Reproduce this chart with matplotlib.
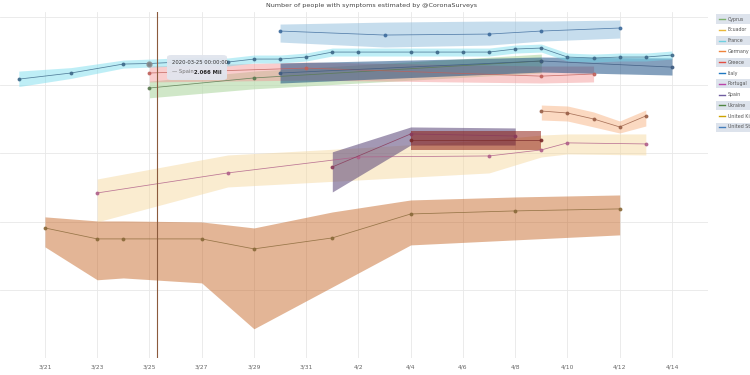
import datetime as dt
import matplotlib
matplotlib.use("Agg")
import matplotlib.pyplot as plt
from matplotlib.patches import Rectangle, FancyBboxPatch

us_dates = ["3/30", "4/3", "4/7", "4/9", "4/12"]
us_mid = [6180, 5400, 5580, 6180, 6840]
us_lo = [4260, 3600, 3850, 4400, 4880]
us_hi = [7820, 8360, 8650, 8650, 8950]

spain_dates = ["3/20", "3/22", "3/24", "3/25", "3/27", "3/28", "3/29", "3/30", "3/31", "4/1", "4/2",
               "4/4", "4/5", "4/6", "4/7", "4/8", "4/9", "4/10", "4/11", "4/12", "4/13", "4/14"]
spain_mid = [1220, 1500, 2030, 2066, 2250, 2170, 2400, 2400, 2570, 3040, 3040,
             3040, 3040, 3040, 3040, 3370, 3480, 2570, 2490, 2570, 2570, 2750]
spain_lo = [950, 1250, 1770, 1830, 1960, 1900, 2100, 2100, 2250, 2660, 2660,
            2660, 2660, 2660, 2660, 2940, 3040, 2250, 2170, 2250, 2250, 2400]
spain_hi = [1600, 1800, 2320, 2400, 2570, 2490, 2750, 2750, 2940, 3480, 3480,
            3480, 3480, 3480, 3480, 3850, 3980, 2940, 2840, 2940, 2940, 3150]

cyprus_dates = ["3/25", "3/29", "4/9"]
cyprus_mid = [904, 1270, 2250]
cyprus_lo = [650, 880, 1500]
cyprus_hi = [1140, 1600, 2840]

greece_dates = ["3/25", "3/31", "4/9", "4/11"]
greece_mid = [1500, 1770, 1350, 1450]
greece_lo = [1110, 1180, 1070, 1110]
greece_hi = [1900, 2170, 1900, 1900]

italy_dates = ["3/30", "4/9", "4/14"]
italy_mid = [1500, 2250, 1830]
italy_lo = [1070, 1550, 1400]
italy_hi = [2100, 2570, 2490]

germany_dates = ["4/9", "4/10", "4/11", "4/12", "4/13"]
germany_mid = [416, 389, 318, 243, 352]
germany_lo = [307, 297, 243, 198, 251]
germany_hi = [509, 493, 403, 297, 431]

ecuador_dates = ["3/23", "3/28", "4/2", "4/7", "4/9", "4/10", "4/13"]
ecuador_mid = [26.2, 51.5, 88.3, 91.3, 112, 142, 137]
ecuador_lo = [9.86, 32.1, 40.6, 51.5, 88.3, 97.7, 94.4]
ecuador_hi = [42.0, 94.4, 120, 157, 185, 192, 192]

portugal_dates = ["4/1", "4/4", "4/8"]
portugal_mid = [63.0, 192, 179]
portugal_lo = [27.1, 132, 132]
portugal_hi = [105, 243, 235]

uk_dates = ["4/4", "4/9"]
uk_mid = [157, 157]
uk_lo = [112, 112]
uk_hi = [212, 212]

ukraine_dates = ["3/21", "3/23", "3/24", "3/27", "3/29", "4/1", "4/4", "4/8", "4/12"]
ukraine_mid = [8.05, 5.56, 5.56, 5.56, 3.97, 5.75, 12.9, 14.3, 15.3]
ukraine_lo = [4.25, 1.40, 1.49, 1.26, 0.268, 1.10, 4.54, 5.38, 6.37]
ukraine_hi = [11.7, 10.2, 10.2, 9.86, 8.05, 13.8, 20.7, 22.9, 24.5]

legend_names = ["Cyprus", "Ecuador", "France", "Germany", "Greece", "Italy", "Portugal",
                "Spain", "Ukraine", "United Ki", "United St"]
legend_colors = ["#7EB26D", "#EAB839", "#6ED0E0", "#EF843C", "#E24D42", "#1F78C1", "#BA43A9",
                 "#705DA0", "#508642", "#CCA300", "#447EBC"]
tick_labels = ["3/21", "3/23", "3/25", "3/27", "3/29", "3/31", "4/2", "4/4", "4/6", "4/8",
               "4/10", "4/12", "4/14"]


def day(s):
    m, d = s.split("/")
    return dt.datetime(2020, int(m), int(d))


def k(vals):
    return [v * 1000 for v in vals]


fig = plt.figure(figsize=(7.5, 3.75), dpi=100)
ax = fig.add_axes([0.0, 1 - 358 / 375, 708 / 750, (358 - 12) / 375])

series = [
    # dates, mid, lo, hi, band colour, band alpha, line colour
    (ukraine_dates, ukraine_mid, ukraine_lo, ukraine_hi, "#C15C17", 0.45, "#8a6a3a"),
    (ecuador_dates, ecuador_mid, ecuador_lo, ecuador_hi, "#F4D598", 0.45, "#b0608a"),
    (portugal_dates, portugal_mid, portugal_lo, portugal_hi, "#584477", 0.55, "#8a3a5a"),
    (uk_dates, uk_mid, uk_lo, uk_hi, "#890F02", 0.5, "#7a2a2a"),
    (germany_dates, germany_mid, germany_lo, germany_hi, "#F9BA8F", 0.55, "#9a6048"),
    (cyprus_dates, cyprus_mid, cyprus_lo, cyprus_hi, "#B7DBAB", 0.65, "#5a7a50"),
    (greece_dates, greece_mid, greece_lo, greece_hi, "#F29191", 0.45, "#c0605a"),
    (italy_dates, italy_mid, italy_lo, italy_hi, "#0A437C", 0.5, "#3d5a80"),
    (spain_dates, spain_mid, spain_lo, spain_hi, "#70DBED", 0.45, "#3f6a8a"),
    (us_dates, us_mid, us_lo, us_hi, "#82B5D8", 0.45, "#3f6d9e"),
]

for dates, mid, lo, hi, bc, ba, lc in series:
    x = [day(s) for s in dates]
    ax.fill_between(x, k(lo), k(hi), color=bc, alpha=ba, lw=0)
    ax.plot(x, k(mid), color=lc, lw=0.55, marker="o", ms=1.8, alpha=0.85)

ax.set_yscale("log")
ax.set_ylim(100, 10 ** 7.07)
left = day("3/21") - dt.timedelta(days=1.72)
right = day("3/21") + dt.timedelta(days=25.38)
ax.set_xlim(left, right)

ax.set_xticks([day(s) for s in tick_labels])
ax.set_xticklabels(tick_labels, fontsize=4.3, color="#666666")
ax.tick_params(axis="x", length=0, pad=5)
ax.tick_params(axis="y", which="both", length=0, labelleft=False)
ax.set_yticks([1e3, 1e4, 1e5, 1e6, 1e7])
ax.minorticks_off()
ax.grid(True, color="#e8e8e8", lw=0.6)
ax.set_axisbelow(True)
for sp in ax.spines.values():
    sp.set_visible(False)

# hover cursor and tooltip
cur = day("3/25") + dt.timedelta(hours=7)
ax.axvline(cur, color="#8b5a3c", lw=0.8)
ax.plot([day("3/25")], [2066000], "o", ms=3.5, color="#8a8a8a", alpha=0.8)

fig.patches.append(FancyBboxPatch((167 / 750, 1 - 80 / 375), 60 / 750, 25 / 375,
                                  boxstyle="round,pad=0,rounding_size=0.006",
                                  transform=fig.transFigure, facecolor="#e1e5ee",
                                  edgecolor="none", alpha=0.95, zorder=5))
fig.text(172 / 750, 1 - 63 / 375, "2020-03-25 00:00:00", fontsize=3.8, color="#333333",
         va="center", zorder=6)
fig.text(172 / 750, 1 - 72 / 375, "— Spain", fontsize=3.8, color="#777777", va="center", zorder=6)
fig.text(222 / 750, 1 - 72 / 375, "2.066 Mil", fontsize=3.8, color="#222222", va="center",
         ha="right", fontweight="bold", zorder=6)

fig.text(372 / 750, 1 - 5 / 375, "Number of people with symptoms estimated by @CoronaSurveys",
         fontsize=4.6, color="#444444", ha="center", va="center")

# legend on the right
for i, (name, col) in enumerate(zip(legend_names, legend_colors)):
    yc = 1 - (19 + i * 10.8) / 375
    if i % 2 == 0:
        fig.patches.append(Rectangle((716 / 750, yc - 4.5 / 375), 34 / 750, 9 / 375,
                                     transform=fig.transFigure, facecolor="#dde3ec",
                                     edgecolor="none"))
    fig.lines.append(plt.Line2D([719 / 750, 725 / 750], [yc, yc], transform=fig.transFigure,
                                color=col, lw=1.0))
    fig.text(728 / 750, yc, name, fontsize=3.4, color="#555555", va="center")

fig.savefig("out.png", dpi=100)
